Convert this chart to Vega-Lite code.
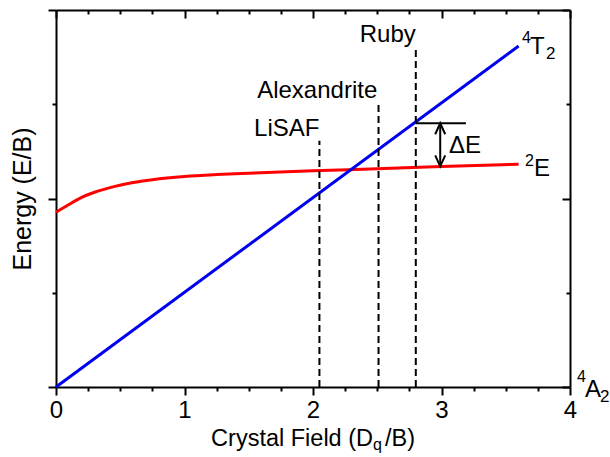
{
  "$schema": "https://vega.github.io/schema/vega-lite/v6.json",
  "width": 514,
  "height": 377,
  "autosize": "none",
  "padding": {"left": 56, "top": 10, "right": 40, "bottom": 70},
  "background": "white",
  "config": {
    "view": {"stroke": null},
    "font": "Liberation Sans",
    "axis": {
      "grid": false,
      "domainColor": "black",
      "domainWidth": 2,
      "tickColor": "black",
      "tickWidth": 2,
      "labelColor": "black",
      "titleColor": "black",
      "labelFont": "Liberation Sans",
      "titleFont": "Liberation Sans",
      "titleFontWeight": "normal",
      "labelFlush": false
    }
  },
  "datasets": {
    "red": [
      {"x": 0, "y": 0.927}, {"x": 0.1, "y": 0.968}, {"x": 0.2, "y": 1.006},
      {"x": 0.3, "y": 1.033}, {"x": 0.45, "y": 1.063}, {"x": 0.6, "y": 1.085},
      {"x": 0.75, "y": 1.1}, {"x": 1.0, "y": 1.117}, {"x": 1.25, "y": 1.127},
      {"x": 1.5, "y": 1.134}, {"x": 2.0, "y": 1.147}, {"x": 2.5, "y": 1.158},
      {"x": 3.0, "y": 1.17}, {"x": 3.6, "y": 1.182}
    ],
    "blue": [{"x": 0, "y": 0}, {"x": 3.6, "y": 1.809}],
    "dashed": [
      {"name": "LiSAF", "x": 2.05, "y": 0, "y2": 1.307},
      {"name": "Alexandrite", "x": 2.51, "y": 0, "y2": 1.505},
      {"name": "Ruby", "x": 2.8, "y": 0, "y2": 1.8}
    ],
    "deltaV": [{"x": 2.99, "y": 1.17, "y2": 1.399}],
    "deltaH": [{"x": 2.8, "x2": 3.19, "y": 1.399}],
    "tipUp": [{"x": 2.99, "y": 1.399}],
    "tipDown": [{"x": 2.99, "y": 1.17}],
    "labelsRight": [
      {"label": "LiSAF", "x": 2.05, "y": 1.334},
      {"label": "Alexandrite", "x": 2.5, "y": 1.534},
      {"label": "Ruby", "x": 2.8, "y": 1.828}
    ],
    "labelsLeft": [
      {"label": "ΔE", "x": 3.058, "y": 1.244},
      {"label": "E", "x": 3.72, "y": 1.121},
      {"label": "T", "x": 3.689, "y": 1.768},
      {"label": "A", "x": 4.117, "y": -0.055}
    ],
    "supers": [
      {"label": "2", "x": 3.65, "y": 1.175},
      {"label": "4", "x": 3.626, "y": 1.826},
      {"label": "4", "x": 4.054, "y": 0.025}
    ],
    "subs": [
      {"label": "2", "x": 3.813, "y": 1.742},
      {"label": "2", "x": 4.233, "y": -0.08}
    ],
    "titleRight": [{"label": "Crystal Field (D", "x": 2.467, "y": -0.314}],
    "titleLeft": [{"label": "/B)", "x": 2.56, "y": -0.314}],
    "titleSub": [{"label": "q", "x": 2.467, "y": -0.336}]
  },
  "resolve": {"axis": {"x": "independent", "y": "independent"}},
  "layer": [
    {
      "data": {"name": "red"},
      "mark": {"type": "line", "color": "#ff0000", "strokeWidth": 3, "interpolate": "monotone"},
      "encoding": {
        "x": {"field": "x", "type": "quantitative", "scale": {"domain": [0, 4], "nice": false, "zero": false},
          "axis": {"orient": "bottom", "values": [0, 1, 2, 3, 4], "format": "d", "tickSize": 8, "labelFontSize": 24, "labelPadding": 3, "labelFlush": false, "title": null}},
        "y": {"field": "y", "type": "quantitative", "scale": {"domain": [0, 2], "nice": false, "zero": false},
          "axis": {"orient": "left", "values": [0, 1, 2], "tickSize": 8, "labels": false, "title": "Energy (E/B)", "titleFontSize": 25, "titlePadding": 12}}
      }
    },
    {
      "data": {"name": "blue"},
      "mark": {"type": "line", "color": "#0000ee", "strokeWidth": 3},
      "encoding": {
        "x": {"field": "x", "type": "quantitative",
          "axis": {"orient": "bottom", "values": [0.25, 0.5, 0.75, 1.25, 1.5, 1.75, 2.25, 2.5, 2.75, 3.25, 3.5, 3.75], "tickSize": 4, "labels": false, "domain": false, "title": null}},
        "y": {"field": "y", "type": "quantitative",
          "axis": {"orient": "left", "values": [0.5, 1.5], "tickSize": 4, "labels": false, "domain": false, "title": null}}
      }
    },
    {
      "data": {"name": "dashed"},
      "mark": {"type": "rule", "color": "black", "strokeWidth": 2, "strokeDash": [7, 4]},
      "encoding": {
        "x": {"field": "x", "type": "quantitative",
          "axis": {"orient": "top", "values": [0, 1, 2, 3, 4], "tickSize": -8, "labels": false, "title": null}},
        "y": {"field": "y", "type": "quantitative",
          "axis": {"orient": "right", "values": [0, 1, 2], "tickSize": -8, "labels": false, "title": null}},
        "y2": {"field": "y2"}
      }
    },
    {
      "data": {"name": "deltaV"},
      "mark": {"type": "rule", "color": "black", "strokeWidth": 2},
      "encoding": {
        "x": {"field": "x", "type": "quantitative",
          "axis": {"orient": "top", "values": [0.25, 0.5, 0.75, 1.25, 1.5, 1.75, 2.25, 2.5, 2.75, 3.25, 3.5, 3.75], "tickSize": -4, "labels": false, "domain": false, "title": null}},
        "y": {"field": "y", "type": "quantitative",
          "axis": {"orient": "right", "values": [0.5, 1.5], "tickSize": -4, "labels": false, "domain": false, "title": null}},
        "y2": {"field": "y2"}
      }
    },
    {
      "data": {"name": "deltaH"},
      "mark": {"type": "rule", "color": "black", "strokeWidth": 2},
      "encoding": {
        "x": {"field": "x", "type": "quantitative", "axis": null},
        "x2": {"field": "x2"},
        "y": {"field": "y", "type": "quantitative", "axis": null}
      }
    },
    {
      "data": {"name": "tipUp"},
      "mark": {"type": "point", "shape": "M-1,2.2L0,0L1,2.2", "size": 100, "filled": false, "color": "black", "strokeWidth": 2, "opacity": 1},
      "encoding": {
        "x": {"field": "x", "type": "quantitative", "axis": null},
        "y": {"field": "y", "type": "quantitative", "axis": null}
      }
    },
    {
      "data": {"name": "tipDown"},
      "mark": {"type": "point", "shape": "M-1,-2.2L0,0L1,-2.2", "size": 100, "filled": false, "color": "black", "strokeWidth": 2, "opacity": 1},
      "encoding": {
        "x": {"field": "x", "type": "quantitative", "axis": null},
        "y": {"field": "y", "type": "quantitative", "axis": null}
      }
    },
    {
      "data": {"name": "labelsRight"},
      "mark": {"type": "text", "align": "right", "baseline": "alphabetic", "fontSize": 24, "font": "Liberation Sans", "color": "black"},
      "encoding": {
        "x": {"field": "x", "type": "quantitative", "axis": null},
        "y": {"field": "y", "type": "quantitative", "axis": null},
        "text": {"field": "label"}
      }
    },
    {
      "data": {"name": "labelsLeft"},
      "mark": {"type": "text", "align": "left", "baseline": "alphabetic", "fontSize": 24, "font": "Liberation Sans", "color": "black"},
      "encoding": {
        "x": {"field": "x", "type": "quantitative", "axis": null},
        "y": {"field": "y", "type": "quantitative", "axis": null},
        "text": {"field": "label"}
      }
    },
    {
      "data": {"name": "supers"},
      "mark": {"type": "text", "align": "left", "baseline": "alphabetic", "fontSize": 16, "font": "Liberation Sans", "color": "black"},
      "encoding": {
        "x": {"field": "x", "type": "quantitative", "axis": null},
        "y": {"field": "y", "type": "quantitative", "axis": null},
        "text": {"field": "label"}
      }
    },
    {
      "data": {"name": "subs"},
      "mark": {"type": "text", "align": "left", "baseline": "alphabetic", "fontSize": 17, "font": "Liberation Sans", "color": "black"},
      "encoding": {
        "x": {"field": "x", "type": "quantitative", "axis": null},
        "y": {"field": "y", "type": "quantitative", "axis": null},
        "text": {"field": "label"}
      }
    },
    {
      "data": {"name": "titleRight"},
      "mark": {"type": "text", "align": "right", "baseline": "alphabetic", "fontSize": 23.5, "font": "Liberation Sans", "color": "black"},
      "encoding": {
        "x": {"field": "x", "type": "quantitative", "axis": null},
        "y": {"field": "y", "type": "quantitative", "axis": null},
        "text": {"field": "label"}
      }
    },
    {
      "data": {"name": "titleLeft"},
      "mark": {"type": "text", "align": "left", "baseline": "alphabetic", "fontSize": 23.5, "font": "Liberation Sans", "color": "black"},
      "encoding": {
        "x": {"field": "x", "type": "quantitative", "axis": null},
        "y": {"field": "y", "type": "quantitative", "axis": null},
        "text": {"field": "label"}
      }
    },
    {
      "data": {"name": "titleSub"},
      "mark": {"type": "text", "align": "left", "baseline": "alphabetic", "fontSize": 16, "font": "Liberation Sans", "color": "black"},
      "encoding": {
        "x": {"field": "x", "type": "quantitative", "axis": null},
        "y": {"field": "y", "type": "quantitative", "axis": null},
        "text": {"field": "label"}
      }
    }
  ]
}
